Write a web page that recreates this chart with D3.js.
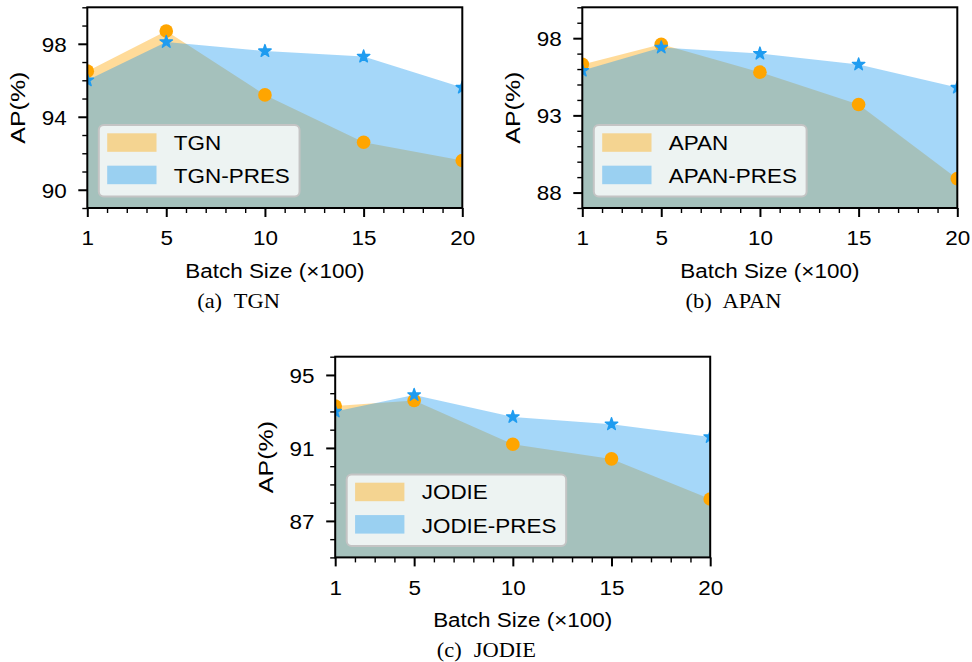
<!DOCTYPE html>
<html><head><meta charset="utf-8">
<script src="https://cdn.jsdelivr.net/npm/d3@7"></script>
<style>body{margin:0;background:#fff}svg{display:block}</style>
</head><body>
<svg id="c" width="972" height="662"></svg>
<script>
// ---- data ----
const batchSizes = [1, 5, 10, 15, 20];
const xTickLabels = [1, 5, 10, 15, 20];
const tgnAP      = [96.5, 98.7, 95.2, 92.6, 91.6];
const tgnPresAP  = [96.0, 98.1, 97.6, 97.3, 95.6];
const apanAP     = [96.3, 97.6, 95.8, 93.7, 88.9];
const apanPresAP = [95.9, 97.4, 97.0, 96.3, 94.8];
const jodieAP     = [93.3, 93.6, 91.2, 90.4, 88.2];
const jodiePresAP = [93.0, 93.9, 92.7, 92.3, 91.6];
const tgnYTicks   = [90, 94, 98];
const apanYTicks  = [88, 93, 98];
const jodieYTicks = [87, 91, 95];
const tgnYRange   = [89, 100];
const apanYRange  = [87, 100];
const jodieYRange = [85, 96];

const panels = [
  {cap:"(a)", name:"TGN",   base:tgnAP,   pres:tgnPresAP,   yDom:tgnYRange,   yTicks:tgnYTicks,   left:87.3,  top:7.3},
  {cap:"(b)", name:"APAN",  base:apanAP,  pres:apanPresAP,  yDom:apanYRange,  yTicks:apanYTicks,  left:582.3, top:7.3},
  {cap:"(c)", name:"JODIE", base:jodieAP, pres:jodiePresAP, yDom:jodieYRange, yTicks:jodieYTicks, left:335.2, top:356.7}
];

const AW = 375, AH = 200.7;
const ORANGE = "#FFA500", BLUE = "#1F9CF0";
const SX = 1.07, FS = 21;
const SANS = "'Liberation Sans', Arial, sans-serif";
const SERIF = "'Liberation Serif', 'Times New Roman', serif";

const svg = d3.select("#c");
const defs = svg.append("defs");

panels.forEach((p, i) => {
  const g = svg.append("g").attr("transform", `translate(${p.left},${p.top})`);
  const x = d3.scaleLinear().domain([1, 20]).range([0, AW]);
  const y = d3.scaleLinear().domain(p.yDom).range([AH, 0]);

  defs.append("clipPath").attr("id", "clip" + i)
    .append("rect").attr("x", 0).attr("y", 0).attr("width", AW).attr("height", AH);

  const plot = g.append("g").attr("clip-path", `url(#clip${i})`);
  const area = d3.area().x((d, j) => x(batchSizes[j])).y0(AH).y1(d => y(d));
  plot.append("path").datum(p.base).attr("d", area).attr("fill", ORANGE).attr("fill-opacity", 0.4);
  plot.append("path").datum(p.pres).attr("d", area).attr("fill", BLUE).attr("fill-opacity", 0.4);

  plot.selectAll("circle.m").data(p.base).join("circle")
    .attr("cx", (d, j) => x(batchSizes[j])).attr("cy", d => y(d)).attr("r", 6.8)
    .attr("fill", ORANGE);
  const star = d3.symbol().type(d3.symbolStar).size(48);
  plot.selectAll("path.s").data(p.pres).join("path")
    .attr("transform", (d, j) => `translate(${x(batchSizes[j])},${y(d)})`)
    .attr("d", star()).attr("fill", BLUE).attr("stroke", BLUE).attr("stroke-width", 1.4)
    .attr("stroke-linejoin", "round");

  // legend
  const lgTop = AH - 11.5 - 71.5;
  const lg = g.append("g").attr("transform", `translate(11.5,${lgTop})`);
  const box = lg.append("rect").attr("x", 0).attr("y", 0).attr("height", 71.5).attr("rx", 5)
    .attr("fill", "#ffffff").attr("fill-opacity", 0.8)
    .attr("stroke", "#c4c4c4").attr("stroke-width", 2);
  const labels = [p.name, p.name + "-PRES"];
  const colors = [ORANGE, BLUE];
  let maxW = 0;
  labels.forEach((lab, k) => {
    lg.append("rect").attr("x", 8.4).attr("y", 8.3 + k * 32.4).attr("width", 49.3).attr("height", 18.5)
      .attr("fill", colors[k]).attr("fill-opacity", 0.4);
    const t = lg.append("text").attr("transform", `translate(75,${25 + k * 33.3}) scale(${SX},1)`)
      .attr("font-family", SANS).attr("font-size", FS).attr("fill", "#000").text(lab);
    maxW = Math.max(maxW, t.node().getComputedTextLength() * SX);
  });
  box.attr("width", 75 + maxW + 9.7);

  // axes
  const xMinor = d3.range(1, 21).filter(v => !xTickLabels.includes(v));
  const gxm = g.append("g").attr("transform", `translate(0,${AH})`)
    .call(d3.axisBottom(x).tickValues(xMinor).tickSize(5).tickFormat(""));
  const gx = g.append("g").attr("transform", `translate(0,${AH})`)
    .call(d3.axisBottom(x).tickValues(xTickLabels).tickSize(9).tickFormat(d3.format("d")));
  const yMinor = d3.range(p.yDom[0], p.yDom[1] + 1).filter(v => !p.yTicks.includes(v));
  const gym = g.append("g").call(d3.axisLeft(y).tickValues(yMinor).tickSize(5).tickFormat(""));
  const gy = g.append("g").call(d3.axisLeft(y).tickValues(p.yTicks).tickSize(9).tickFormat(d3.format("d")));

  [gxm, gx, gym, gy].forEach(a => a.select(".domain").remove());
  [gxm, gym].forEach(a => a.selectAll(".tick line").attr("stroke", "#000").attr("stroke-width", 1.4));
  [gx, gy].forEach(a => a.selectAll(".tick line").attr("stroke", "#000").attr("stroke-width", 2));
  gx.selectAll(".tick text")
    .attr("x", null).attr("y", null).attr("dy", null)
    .attr("transform", `translate(0,37.3) scale(${SX},1)`)
    .attr("font-family", SANS).attr("font-size", FS).attr("fill", "#000").attr("text-anchor", "middle");
  gy.selectAll(".tick text")
    .attr("x", null).attr("y", null).attr("dy", "0.35em")
    .attr("transform", `translate(-20.6,0) scale(${SX},1)`)
    .attr("font-family", SANS).attr("font-size", FS).attr("fill", "#000").attr("text-anchor", "end");

  // spines
  g.append("rect").attr("x", 0).attr("y", 0).attr("width", AW).attr("height", AH)
    .attr("fill", "none").attr("stroke", "#000").attr("stroke-width", 2);

  // axis labels
  g.append("text").attr("transform", `translate(${AW / 2},${AH + 70}) scale(${SX},1)`)
    .attr("text-anchor", "middle").attr("font-family", SANS).attr("font-size", FS).attr("fill", "#000")
    .text("Batch Size (\u00d7100)");
  g.append("text").attr("transform", `translate(-62,${AH / 2}) rotate(-90) scale(1.19,1)`)
    .attr("text-anchor", "middle").attr("font-family", SANS).attr("font-size", FS).attr("fill", "#000")
    .text("AP(%)");

  // caption
  const cap = g.append("text").attr("transform", `translate(${AW / 2 - 36.3},${AH + 99.8}) scale(${SX},1)`)
    .attr("text-anchor", "middle").attr("font-family", SERIF).attr("font-size", 21).attr("fill", "#000");
  cap.append("tspan").text(p.cap);
  cap.append("tspan").attr("dx", 6).text(" " + p.name);
});
</script>
</body></html>
